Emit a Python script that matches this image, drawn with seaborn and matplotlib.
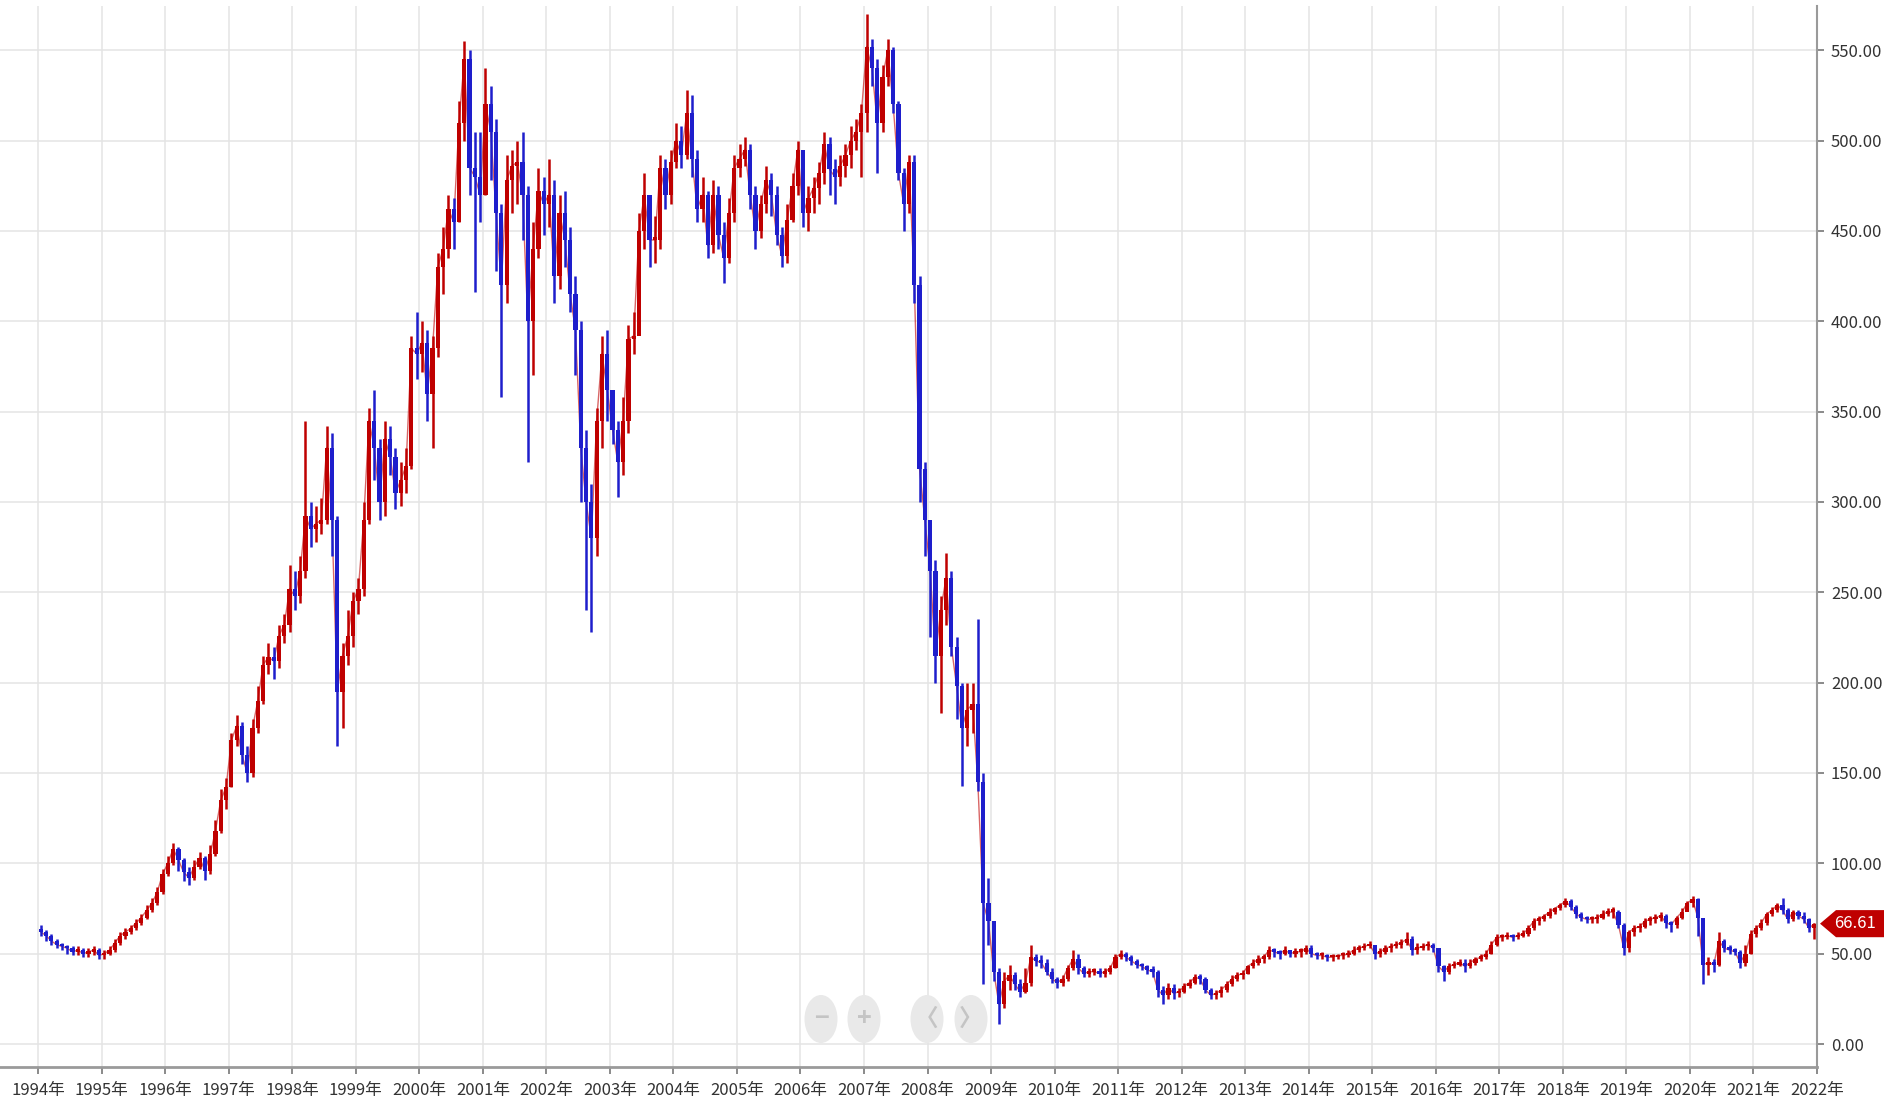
import numpy as np
import pandas as pd
import seaborn as sns
import matplotlib.pyplot as plt
from matplotlib.patches import Ellipse, Polygon
from matplotlib.transforms import blended_transform_factory

# Monthly OHLC (Jan..Dec per row), open = previous close
first_open = 63
close = [
    62, 60, 57, 55, 54, 53, 51, 52, 50, 51, 52, 49,            # 1994
    50, 52, 56, 60, 62, 64, 67, 70, 74, 78, 84, 94,            # 1995
    100, 108, 102, 95, 92, 98, 103, 96, 105, 118, 135, 142,    # 1996
    168, 176, 160, 150, 175, 190, 210, 214, 212, 226, 232, 252,  # 1997
    248, 262, 292, 285, 288, 290, 330, 290, 195, 215, 226, 245,  # 1998
    252, 290, 345, 330, 300, 335, 325, 305, 312, 320, 385, 382,  # 1999
    388, 360, 385, 430, 440, 462, 455, 510, 545, 485, 480, 470,  # 2000
    520, 505, 460, 420, 478, 486, 488, 470, 400, 440, 472, 465,  # 2001
    470, 425, 460, 445, 415, 395, 330, 300, 280, 345, 382, 362,  # 2002
    340, 322, 345, 390, 392, 450, 470, 445, 445, 485, 470, 488,  # 2003
    500, 492, 515, 490, 462, 470, 442, 470, 448, 435, 460, 485,  # 2004
    490, 495, 470, 450, 465, 478, 470, 448, 436, 456, 475, 495,  # 2005
    460, 468, 474, 482, 498, 484, 480, 486, 492, 500, 505, 515,  # 2006
    552, 540, 510, 535, 550, 520, 482, 465, 488, 420, 318, 290,  # 2007
    262, 215, 240, 258, 220, 198, 175, 185, 188, 145, 78, 68,    # 2008
    40, 22, 35, 38, 33, 29, 34, 48, 46, 45, 40, 36,            # 2009
    34, 36, 42, 47, 42, 39, 40, 40, 39, 40, 42, 48,            # 2010
    50, 48, 46, 44, 43, 41, 40, 30, 27, 31, 28, 29,            # 2011
    32, 34, 37, 36, 30, 27, 28, 30, 33, 36, 38, 39,            # 2012
    43, 45, 47, 48, 52, 51, 50, 52, 50, 51, 51, 53,            # 2013
    50, 49, 49, 48, 48, 49, 49, 50, 52, 53, 54, 55,            # 2014
    50, 51, 53, 54, 55, 56, 58, 52, 53, 54, 55, 53,            # 2015
    43, 40, 43, 44, 45, 43, 45, 47, 48, 50, 55, 59,            # 2016
    59, 60, 59, 60, 61, 64, 68, 69, 71, 73, 75, 77,            # 2017
    79, 76, 72, 70, 69, 69, 70, 72, 73, 73, 66, 53,            # 2018
    62, 64, 65, 68, 69, 70, 71, 67, 66, 70, 73, 78,            # 2019
    80, 70, 44, 45, 44, 57, 53, 52, 51, 45, 50, 61,            # 2020
    64, 67, 72, 74, 77, 74, 69, 73, 71, 69, 64, 66.61,         # 2021
]
high = [
    66, 63, 61, 58, 56, 55, 54, 54, 53, 53, 54, 53,
    52, 54, 58, 62, 64, 66, 69, 72, 77, 81, 87, 97,
    104, 111, 109, 103, 98, 102, 106, 104, 110, 124, 141, 147,
    172, 182, 178, 165, 180, 198, 215, 222, 220, 232, 238, 265,
    262, 270, 345, 300, 298, 302, 342, 338, 292, 222, 240, 250,
    258, 300, 352, 362, 335, 345, 342, 330, 322, 330, 392, 405,
    400, 395, 392, 438, 452, 470, 468, 522, 555, 550, 505, 505,
    540, 530, 512, 465, 492, 495, 500, 505, 475, 455, 485, 480,
    490, 478, 470, 472, 452, 425, 400, 340, 310, 352, 392, 395,
    362, 345, 358, 398, 405, 460, 482, 470, 458, 492, 490, 495,
    510, 508, 528, 525, 495, 480, 472, 478, 475, 455, 468, 492,
    498, 502, 498, 475, 470, 486, 482, 475, 452, 465, 482, 500,
    492, 475, 480, 488, 505, 502, 490, 492, 498, 508, 512, 520,
    570, 556, 545, 542, 556, 552, 522, 485, 492, 492, 425, 322,
    290, 268, 248, 272, 262, 225, 200, 200, 200, 235, 150, 92,
    62, 42, 40, 44, 40, 36, 42, 55, 50, 49, 47, 42,
    37, 38, 44, 52, 50, 43, 42, 42, 42, 42, 44, 50,
    52, 51, 49, 47, 45, 44, 43, 41, 32, 34, 33, 31,
    34, 36, 39, 39, 37, 31, 30, 32, 35, 38, 40, 41,
    44, 47, 49, 50, 54, 53, 52, 54, 52, 53, 53, 55,
    55, 51, 51, 50, 50, 50, 51, 52, 54, 55, 56, 57,
    52, 53, 55, 56, 57, 58, 62, 60, 56, 56, 57, 56,
    51, 44, 45, 46, 47, 47, 47, 48, 50, 52, 57, 61,
    61, 62, 61, 62, 63, 66, 70, 71, 72, 75, 76, 78,
    81, 80, 77, 73, 71, 71, 72, 74, 75, 76, 74, 67,
    63, 66, 67, 70, 71, 72, 73, 72, 68, 71, 75, 79,
    82, 81, 60, 48, 47, 62, 58, 55, 53, 52, 55, 63,
    66, 69, 73, 76, 78, 81, 75, 74, 74, 73, 70, 67,
]
low = [
    60, 57, 55, 53, 52, 50, 49, 49, 48, 48, 49, 47,
    47, 49, 51, 55, 58, 61, 63, 66, 69, 73, 77, 83,
    93, 99, 96, 90, 88, 91, 97, 91, 94, 104, 117, 130,
    142, 165, 155, 145, 148, 172, 188, 205, 202, 208, 222, 228,
    240, 244, 258, 275, 278, 282, 288, 270, 165, 175, 210, 220,
    238, 248, 288, 312, 290, 292, 315, 296, 298, 305, 318, 368,
    372, 345, 330, 380, 415, 435, 440, 455, 500, 470, 416, 455,
    470, 478, 428, 358, 410, 460, 465, 445, 322, 370, 435, 448,
    452, 410, 418, 430, 405, 370, 300, 240, 228, 270, 330, 345,
    332, 303, 315, 338, 382, 395, 440, 430, 432, 440, 462, 465,
    485, 485, 490, 480, 455, 455, 435, 438, 440, 421, 432, 455,
    480, 486, 462, 440, 446, 460, 458, 442, 430, 432, 455, 470,
    452, 450, 460, 465, 476, 470, 465, 475, 480, 485, 495, 480,
    505, 530, 482, 505, 530, 515, 478, 450, 460, 410, 300, 270,
    225, 200, 183, 232, 215, 180, 143, 165, 172, 140, 33, 55,
    35, 11, 20, 30, 30, 26, 28, 32, 43, 42, 38, 34,
    31, 32, 35, 41, 39, 37, 37, 38, 37, 37, 39, 42,
    47, 46, 44, 42, 41, 39, 37, 26, 22, 25, 25, 26,
    28, 31, 33, 33, 28, 25, 25, 26, 29, 32, 35, 36,
    39, 42, 44, 45, 47, 48, 47, 49, 48, 48, 48, 50,
    48, 47, 47, 46, 46, 47, 47, 48, 49, 51, 52, 53,
    47, 48, 50, 51, 53, 53, 55, 49, 50, 52, 52, 51,
    40, 35, 39, 42, 43, 40, 42, 44, 46, 47, 50, 54,
    57, 58, 57, 58, 59, 60, 63, 66, 68, 70, 72, 74,
    76, 74, 70, 68, 67, 67, 67, 69, 71, 70, 64, 49,
    51, 60, 62, 64, 66, 67, 68, 64, 62, 64, 69, 74,
    76, 60, 33, 38, 40, 43, 51, 50, 49, 42, 43, 50,
    59, 63, 66, 71, 73, 72, 67, 68, 69, 67, 62, 58,
]
year_ticks = list(range(1994, 2023))
price_ticks = list(range(0, 551, 50))
last_price = 66.61

RED = '#bf0000'
BLUE = '#1e1ecc'

df = pd.DataFrame({'close': close, 'high': high, 'low': low})
df['open'] = df['close'].shift(1).fillna(first_open)
df['t'] = 1994 + (np.arange(len(df)) + 0.5) / 12
df['up'] = df['close'] >= df['open']
df['bottom'] = df[['open', 'close']].min(axis=1)
df['body'] = (df['close'] - df['open']).abs().clip(lower=1.5)

sns.set_theme(style='whitegrid')
plt.rcParams['font.family'] = ['Noto Sans CJK SC', 'DejaVu Sans']

fig = plt.figure(figsize=(18.84, 11.06), dpi=100)
ax = fig.add_axes([0.0, 0.0353, 0.9644, 0.9593])
ax.set_facecolor('white')
ax.set_axisbelow(True)

colors = np.where(df['up'], RED, BLUE)
# wicks
ax.vlines(df['t'], df['low'], df['high'], colors=colors, lw=1.8, zorder=3)
# bodies
ax.bar(df['t'], df['body'], bottom=df['bottom'], width=0.8 / 12,
       color=colors, linewidth=0, zorder=3)
# thin connector so the series reads as one continuous trace
ax.plot(df['t'], df['close'], color=RED, lw=1.0, alpha=0.6, zorder=2)

ax.set_xlim(1993.4, 2022.0)
ax.set_ylim(-12.7, 574.5)

ax.set_xticks(year_ticks)
ax.set_xticklabels([f'{y}年' for y in year_ticks])
ax.set_yticks(price_ticks)
ax.set_yticklabels([f'{v:.2f}' for v in price_ticks])
ax.yaxis.tick_right()

ax.grid(True, color='#e4e4e4', lw=1.1)
for side in ['top', 'left']:
    ax.spines[side].set_visible(False)
ax.spines['bottom'].set_color('#9a9a9a')
ax.spines['bottom'].set_linewidth(2)
ax.spines['right'].set_color('#9a9a9a')
ax.spines['right'].set_linewidth(1.5)
ax.tick_params(axis='x', bottom=True, length=5, width=1.2, color='#777777',
               pad=6, labelsize=12, labelcolor='#333333')
ax.tick_params(axis='y', right=True, left=False, length=5, width=1.2,
               color='#777777', pad=5, labelsize=12, labelcolor='#333333')
ax.set_xlabel('')
ax.set_ylabel('')

# last price marker on the right axis
tr = blended_transform_factory(ax.transAxes, ax.transData)
tag = Polygon([[1.0017, last_price], [1.0105, last_price + 7.5], [1.04, last_price + 7.5],
               [1.04, last_price - 7.5], [1.0105, last_price - 7.5]],
              closed=True, transform=tr, facecolor=RED, edgecolor='none', clip_on=False, zorder=5)
ax.add_patch(tag)
ax.text(1.0095, last_price, f'{last_price:.2f}', transform=tr, ha='left', va='center',
        color='white', fontsize=12, clip_on=False, zorder=6)

# navigator buttons
for cx, sym, fs in zip([821, 864, 927, 971], ['−', '+', '〈', '〉'], [18, 18, 17, 17]):
    fig.patches.append(Ellipse((cx / 1884, 1 - 1019 / 1106), 33 / 1884, 48 / 1106,
                               transform=fig.transFigure, facecolor='#e9e9e9',
                               edgecolor='none', zorder=10))
    fig.text(cx / 1884, 1 - 1019 / 1106, sym, ha='center', va='center',
             fontsize=fs, color='#c4c4c4', fontweight='bold', zorder=11)

fig.savefig('out.png', dpi=100, facecolor='white')
